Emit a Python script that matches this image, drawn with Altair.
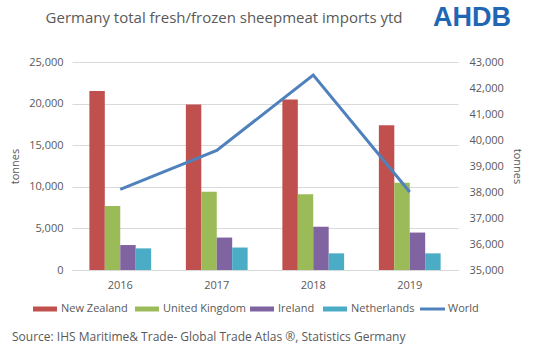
import altair as alt
import pandas as pd

years = ["2016", "2017", "2018", "2019"]
countries = ["New Zealand", "United Kingdom", "Ireland", "Netherlands"]
new_zealand = [21500, 19900, 20500, 17400]
united_kingdom = [7700, 9400, 9100, 10500]
ireland = [3000, 3900, 5200, 4500]
netherlands = [2600, 2700, 2000, 2000]
world = [38100, 39600, 42500, 38000]
colors = ["#C0504D", "#9BBB59", "#8064A2", "#4BACC6"]
world_color = "#4F81BD"

FONT = "Open Sans"
GREY = "#595959"

rows = []
for c, vals in zip(countries, [new_zealand, united_kingdom, ireland, netherlands]):
    for y, v in zip(years, vals):
        rows.append({"year": y, "country": c, "value": v})
bars_df = pd.DataFrame(rows)
line_df = pd.DataFrame({"year": years, "world": world, "series": ["World"] * 4})

x_enc = alt.X(
    "year:N",
    sort=years,
    scale=alt.Scale(paddingInner=0.36, paddingOuter=0.18),
    axis=alt.Axis(title=None, labelAngle=0, ticks=False, domainColor="#D9D9D9",
                  labelPadding=9, grid=False),
)

bars = alt.Chart(bars_df).mark_bar().encode(
    x=x_enc,
    xOffset=alt.XOffset("country:N", sort=countries, scale=alt.Scale(paddingInner=0)),
    y=alt.Y("value:Q",
            scale=alt.Scale(domain=[0, 25000], nice=False),
            axis=alt.Axis(values=[0, 5000, 10000, 15000, 20000, 25000], format=",.0f",
                          title="tonnes", grid=True, gridColor="#D9D9D9", domain=False,
                          ticks=False, labelPadding=9, titlePadding=8, orient="left")),
    color=alt.Color("country:N", sort=countries,
                    scale=alt.Scale(domain=countries, range=colors), legend=None),
)

line = alt.Chart(line_df).mark_line(strokeWidth=3).encode(
    x=x_enc,
    y=alt.Y("world:Q",
            scale=alt.Scale(domain=[35000, 43000], nice=False, zero=False),
            axis=alt.Axis(values=list(range(35000, 43001, 1000)), format=",.0f",
                          title="tonnes", grid=False, domain=False, ticks=False,
                          labelPadding=11, titlePadding=8, orient="right")),
    stroke=alt.Stroke("series:N",
                      scale=alt.Scale(domain=["World"], range=[world_color]), legend=None),
)

note_data = alt.Data(values=[{}])

title_txt = alt.Chart(note_data).mark_text(
    font=FONT, fontSize=15, color=GREY, align="center", baseline="middle"
).encode(x=alt.value(152), y=alt.value(-44),
         text=alt.value("Germany total fresh/frozen sheepmeat imports ytd"))

logo_txt = alt.Chart(note_data).mark_text(
    font="Liberation Sans", fontSize=27, fontWeight="bold", color="#1F66B3",
    align="center", baseline="middle"
).encode(x=alt.value(400), y=alt.value(-44), text=alt.value("AHDB"))

source_txt = alt.Chart(note_data).mark_text(
    font=FONT, fontSize=12, color=GREY, align="left", baseline="middle"
).encode(x=alt.value(-60), y=alt.value(275),
         text=alt.value("Source: IHS Maritime& Trade- Global Trade Atlas \u00ae, Statistics Germany"))

# manual legend (layout positions relative to plot origin)
legend_names = countries + ["World"]
legend_colors = colors + [world_color]
legend_x = [-39, 63, 178, 251, 348]
LEG_Y = 247
legend_layers = []
for i, (name, col, lx) in enumerate(zip(legend_names, legend_colors, legend_x)):
    if name == "World":
        sym = alt.Chart(note_data).mark_rule(color=col, strokeWidth=3).encode(
            x=alt.value(lx), x2=alt.value(lx + 25), y=alt.value(LEG_Y))
    else:
        sym = alt.Chart(note_data).mark_rect(color=col).encode(
            x=alt.value(lx), x2=alt.value(lx + 24),
            y=alt.value(LEG_Y - 2.5), y2=alt.value(LEG_Y + 2.5))
    lab = alt.Chart(note_data).mark_text(
        font=FONT, fontSize=11, color=GREY, align="left", baseline="middle"
    ).encode(x=alt.value(lx + 28), y=alt.value(LEG_Y), text=alt.value(name))
    legend_layers += [sym, lab]

chart = alt.layer(bars, line, title_txt, logo_txt, source_txt, *legend_layers).resolve_scale(
    y="independent", color="independent", stroke="independent"
).properties(
    width=386, height=208,
    autosize=alt.AutoSizeParams(type="none"),
    padding={"left": 72, "top": 62, "right": 77, "bottom": 87},
    background="white",
).configure_view(stroke=None).configure_axis(
    labelFont=FONT, labelFontSize=11, labelColor=GREY,
    titleFont=FONT, titleFontSize=11, titleColor=GREY, titleFontWeight="normal",
)

chart.save("out.html", embed_options={"renderer": "svg", "actions": False})
